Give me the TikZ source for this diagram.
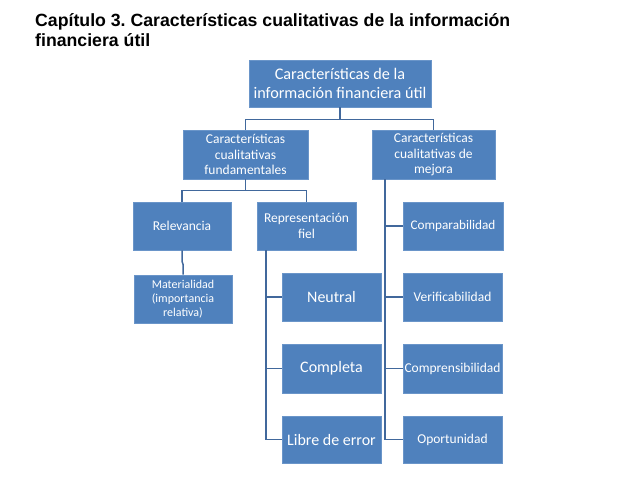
\documentclass[tikz,border=0pt]{standalone}
\usepackage{fontspec}
\setmainfont{Carlito}
\newfontfamily\titlefont{Liberation Sans}
\definecolor{boxblue}{HTML}{4F81BD}
\definecolor{boxedge}{HTML}{6A95C9}
\definecolor{linkblue}{HTML}{41689C}
\frenchspacing
\begin{document}
\begin{tikzpicture}[x=1pt,y=-1pt,
  box/.style={fill=boxblue,draw=boxedge,line width=0.6pt,text=white,align=center,inner sep=1pt,
    minimum width=99pt,minimum height=48pt,font=\fontsize{13.5}{15.5}\selectfont},
  link/.style={draw=linkblue,line width=1.5pt}]
\useasboundingbox (0,0) rectangle (638,479);
\node[anchor=base west,inner sep=0,align=left,font=\titlefont\bfseries\fontsize{17.7}{20}\selectfont] (title) at (35,46)
  {Capítulo 3. Características cualitativas de la información\\financiera útil};
\node[box,minimum width=182pt,minimum height=47pt,font=\fontsize{16.2}{18.5}\selectfont] (top) at (340,83.5) {Características de la\\información financiera útil};
\node[box,minimum width=125pt,minimum height=49pt] (fund) at (245.5,154.5) {Características\\cualitativas\\fundamentales};
\node[box,minimum width=123pt,minimum height=49pt] (mej) at (433.5,154.5) {Características\\cualitativas de\\mejora};
\node[box,minimum width=98pt] (rel) at (182,226) {Relevancia};
\node[box] (rep) at (306.5,226) {Representación\\fiel};
\node[box,minimum width=100pt,font=\fontsize{13.2}{15}\selectfont] (comp) at (453,226) {Comparabilidad};
\node[box,minimum width=98pt,font=\fontsize{12}{14}\selectfont] (mat) at (183,299) {Materialidad\\(importancia\\relativa)};
\node[box,font=\fontsize{16}{18}\selectfont] (neu) at (331.5,297) {Neutral};
\node[box,minimum height=49pt,font=\fontsize{16}{18}\selectfont] (cpl) at (331.5,368.5) {Completa};
\node[box,minimum height=47pt,font=\fontsize{16}{18}\selectfont] (lib) at (331.5,439.5) {Libre de error};
\node[box] (ver) at (452.5,297) {Verificabilidad};
\node[box,minimum height=49pt] (cmpr) at (452.5,368.5) {Comprensibilidad};
\node[box,minimum height=47pt] (opo) at (452.5,439.5) {Oportunidad};
% connectors
\draw[link] (top.south) -- ++(0,12) -| (fund.north);
\draw[link] (top.south) -- ++(0,12) -| (mej.north);
\draw[link] (fund.south) -- ++(0,11) -| (rel.north);
\draw[link] (fund.south) -- ++(0,11) -| (rep.north);
\draw[link] (rel.south) -- ++(0,11) -- ++(1,3) -- (mat.north);
\draw[link] (rep.south -| 266,0) |- (neu.west);
\draw[link] (rep.south -| 266,0) |- (cpl.west);
\draw[link] (rep.south -| 266,0) |- (lib.west);
\draw[link] (mej.south -| 385,0) |- (comp.west);
\draw[link] (mej.south -| 385,0) |- (ver.west);
\draw[link] (mej.south -| 385,0) |- (cmpr.west);
\draw[link] (mej.south -| 385,0) |- (opo.west);
\end{tikzpicture}
\end{document}
